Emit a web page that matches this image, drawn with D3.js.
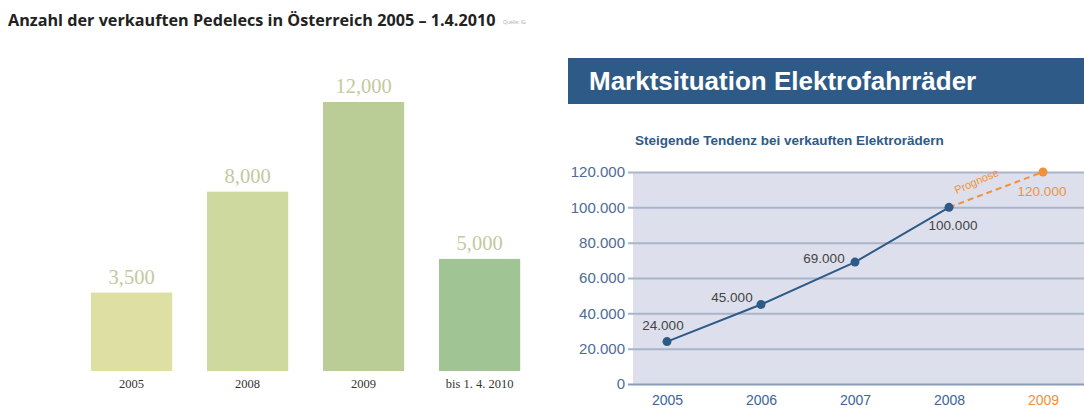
<!DOCTYPE html>
<html><head><meta charset="utf-8">
<script src="https://cdn.jsdelivr.net/npm/d3@7"></script>
<style>
html,body{margin:0;padding:0;background:#fff;}
svg{display:block;}
</style></head>
<body>
<svg id="c" width="1084" height="416"></svg>
<script>
// ---- Data: left bar chart ----
const barCategories = ["2005", "2008", "2009", "bis 1. 4. 2010"];
const barValues = [3500, 8000, 12000, 5000];
const barTitle = "Anzahl der verkauften Pedelecs in Österreich 2005 – 1.4.2010";
const barSource = "Quelle: IG";

// ---- Data: right line chart ----
const lineYears = ["2005", "2006", "2007", "2008"];
const lineValues = [24000, 45000, 69000, 100000];
const forecastYear = "2009";
const forecastValue = 120000;
const allYears = ["2005", "2006", "2007", "2008", "2009"];
const yTicks = [0, 20000, 40000, 60000, 80000, 100000, 120000];
const headerTitle = "Marktsituation Elektrofahrräder";
const subTitle = "Steigende Tendenz bei verkauften Elektrorädern";
const forecastLabel = "Prognose";

const barColors = ["#dde0a2", "#cdd99e", "#bacd96", "#a0c494"];

const svg = d3.select("#c");
const enFmt = d3.formatLocale({decimal: ".", thousands: ",", grouping: [3], currency: ["", ""]}).format(",d");
const deFmt = d3.formatLocale({decimal: ",", thousands: ".", grouping: [3], currency: ["", ""]}).format(",d");

// ================= LEFT =================
const L = svg.append("g");
L.append("text").attr("x", 8).attr("y", 26)
  .attr("font-family", "Open Sans, sans-serif").attr("font-weight", 700)
  .attr("font-size", 16.2).attr("fill", "#222")
  .text(barTitle);
L.append("text").attr("x", 503).attr("y", 24)
  .attr("font-family", "Open Sans, sans-serif").attr("font-size", 5)
  .attr("fill", "#aaa").text(barSource);

const xb = d3.scaleBand().domain(barCategories).range([73.6, 537.6])
  .paddingInner(0.3).paddingOuter(0.15);
const yb = d3.scaleLinear().domain([0, 12000]).range([371, 102]);

L.selectAll("rect.bar").data(barValues).join("rect").attr("class", "bar")
  .attr("x", (d, i) => xb(barCategories[i]))
  .attr("y", d => yb(d))
  .attr("width", xb.bandwidth())
  .attr("height", d => yb(0) - yb(d))
  .attr("fill", (d, i) => barColors[i]);

L.selectAll("text.val").data(barValues).join("text").attr("class", "val")
  .attr("x", (d, i) => xb(barCategories[i]) + xb.bandwidth() / 2)
  .attr("y", d => yb(d) - 9)
  .attr("text-anchor", "middle")
  .attr("font-family", "Liberation Serif, DejaVu Serif, serif")
  .attr("font-size", 20.5).attr("fill", "#c3c9a0")
  .text(d => enFmt(d));

const xAxisB = d3.axisBottom(xb).tickSize(0).tickPadding(8);
const gxb = L.append("g").attr("transform", `translate(0,${yb(0)})`).call(xAxisB);
gxb.select(".domain").remove();
gxb.selectAll("text").attr("font-family", "Liberation Serif, DejaVu Serif, serif")
  .attr("font-size", 12.5).attr("fill", "#333");

// ================= RIGHT =================
const R = svg.append("g");
R.append("rect").attr("x", 568).attr("y", 58).attr("width", 516).attr("height", 46)
  .attr("fill", "#2e5a87");
R.append("text").attr("x", 589).attr("y", 90)
  .attr("font-family", "Liberation Sans, Arial, sans-serif").attr("font-weight", 700)
  .attr("font-size", 26).attr("fill", "#fff").text(headerTitle);
R.append("text").attr("x", 635).attr("y", 145)
  .attr("font-family", "Liberation Sans, Arial, sans-serif").attr("font-weight", 700)
  .attr("font-size", 13.5).attr("fill", "#2e5a87").text(subTitle);

const plotL = 633, plotR = 1084, plotT = 172, plotB = 384;
const y = d3.scaleLinear().domain([0, 120000]).range([plotB, plotT]);
const x = d3.scalePoint().domain(allYears).range([667, 1043]);

R.append("rect").attr("x", plotL).attr("y", plotT).attr("width", plotR - plotL)
  .attr("height", plotB - plotT).attr("fill", "#dde0ec");

const yAxis = d3.axisLeft(y).tickValues(yTicks).tickFormat(deFmt)
  .tickSize(-(plotR - 628)).tickPadding(3);
const gy = R.append("g").attr("transform", `translate(628,0)`).call(yAxis);
gy.select(".domain").remove();
gy.selectAll(".tick line").attr("stroke", d => d === 0 ? "#8a9bb5" : "#a9b5c9").attr("stroke-width", 2);
gy.selectAll(".tick text").attr("font-family", "Liberation Sans, Arial, sans-serif")
  .attr("font-size", 15).attr("fill", "#4d6c95");

const xAxis = d3.axisBottom(x).tickSize(0).tickPadding(11);
const gx = R.append("g").attr("transform", `translate(0,${plotB})`).call(xAxis);
gx.select(".domain").remove();
gx.selectAll(".tick text").attr("font-family", "Liberation Sans, Arial, sans-serif")
  .attr("font-size", 14).attr("fill", d => d === forecastYear ? "#f0903a" : "#3d6494");

// forecast dashed line
const lastYear = lineYears[lineYears.length - 1];
const lastVal = lineValues[lineValues.length - 1];
R.append("line")
  .attr("x1", x(lastYear)).attr("y1", y(lastVal))
  .attr("x2", x(forecastYear)).attr("y2", y(forecastValue))
  .attr("stroke", "#f0903a").attr("stroke-width", 2).attr("stroke-dasharray", "6,4");
R.append("circle").attr("cx", x(forecastYear)).attr("cy", y(forecastValue)).attr("r", 4.5)
  .attr("fill", "#f0903a");

// main line
const pts = lineYears.map((yr, i) => [x(yr), y(lineValues[i])]);
R.append("path").attr("d", d3.line()(pts)).attr("fill", "none")
  .attr("stroke", "#2e5a87").attr("stroke-width", 2);
R.selectAll("circle.pt").data(lineValues).join("circle").attr("class", "pt")
  .attr("cx", (d, i) => x(lineYears[i])).attr("cy", d => y(d)).attr("r", 4.5)
  .attr("fill", "#2e5a87");

// value labels
const labelOffsets = [[-4, -12], [-29, -3], [-31, 1], [4, 23]];
R.selectAll("text.lv").data(lineValues).join("text").attr("class", "lv")
  .attr("x", (d, i) => x(lineYears[i]) + labelOffsets[i][0])
  .attr("y", (d, i) => y(d) + labelOffsets[i][1])
  .attr("text-anchor", "middle")
  .attr("font-family", "Liberation Sans, Arial, sans-serif")
  .attr("font-size", 13.5).attr("fill", "#444")
  .text(d => deFmt(d));
R.append("text").attr("x", x(forecastYear) - 1).attr("y", y(forecastValue) + 24)
  .attr("text-anchor", "middle")
  .attr("font-family", "Liberation Sans, Arial, sans-serif")
  .attr("font-size", 13.5).attr("fill", "#f0903a").text(deFmt(forecastValue));

// Prognose label
const mx = (x(lastYear) + x(forecastYear)) / 2, my = (y(lastVal) + y(forecastValue)) / 2;
const ang = Math.atan2(y(forecastValue) - y(lastVal), x(forecastYear) - x(lastYear)) * 180 / Math.PI;
R.append("text").attr("transform", `translate(${mx - 18},${my - 5}) rotate(${ang - 3})`)
  .attr("text-anchor", "middle")
  .attr("font-family", "Liberation Sans, Arial, sans-serif")
  .attr("font-size", 11).attr("fill", "#f0903a").text(forecastLabel);
</script>
</body></html>
